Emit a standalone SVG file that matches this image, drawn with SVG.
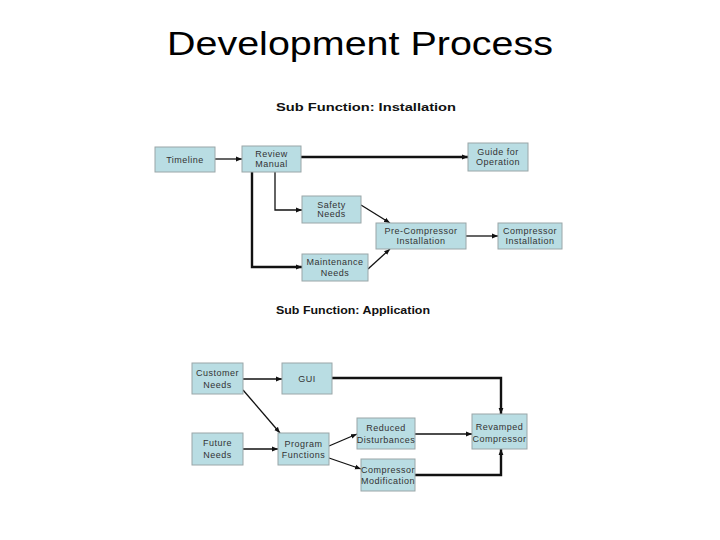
<svg xmlns="http://www.w3.org/2000/svg" width="720" height="540" viewBox="0 0 720 540">
<style>
.bg{fill:#fff}
.node rect{fill:#b9dde3;stroke:#9aa6a8;stroke-width:1}
.node text{font-family:"Liberation Sans",Arial,sans-serif;font-size:9px;fill:#333;text-anchor:middle;letter-spacing:0.5px}
.title{font-family:"Liberation Sans",Arial,sans-serif;font-size:33px;fill:#000}
.sub{font-family:"Liberation Sans",Arial,sans-serif;font-size:11px;font-weight:bold;fill:#111}
.c{fill:none;stroke:#111;stroke-width:1.3;marker-end:url(#a)}
.t{stroke-width:2.4}
</style>
<defs>
<marker id="a" viewBox="0 0 10 10" refX="10" refY="5" markerWidth="6" markerHeight="6" markerUnits="userSpaceOnUse" orient="auto">
<path d="M0,1 L10,5 L0,9 z" fill="#111"/>
</marker>
</defs>
<rect class="bg" width="720" height="540"/>
<text class="title" x="167" y="55" textLength="386" lengthAdjust="spacingAndGlyphs">Development Process</text>
<text class="sub" x="276" y="111" textLength="180" lengthAdjust="spacingAndGlyphs">Sub Function: Installation</text>
<text class="sub" x="276" y="314" textLength="154" lengthAdjust="spacingAndGlyphs">Sub Function: Application</text>

<g id="connectors">
<line class="c" x1="215" y1="159" x2="242" y2="159"/>
<line class="c t" x1="301" y1="157" x2="468" y2="157"/>
<polyline class="c" points="275,172 275,210 302,210"/>
<polyline class="c t" points="252,172 252,267 302,267"/>
<line class="c" x1="361" y1="205" x2="390" y2="223"/>
<line class="c" x1="368" y1="269" x2="390" y2="249"/>
<line class="c" x1="466" y1="236" x2="498" y2="236"/>

<line class="c" x1="243" y1="379" x2="282" y2="379"/>
<polyline class="c t" points="332,378 501,378 501,414"/>
<line class="c" x1="243" y1="390" x2="280" y2="433"/>
<line class="c" x1="243" y1="449" x2="278" y2="449"/>
<line class="c" x1="329" y1="446" x2="357" y2="434"/>
<line class="c" x1="329" y1="458" x2="361" y2="469"/>
<line class="c" x1="415" y1="434" x2="472" y2="434"/>
<polyline class="c t" points="415,475 501,475 501,449"/>
</g>

<g id="timeline" class="node"><rect x="155" y="147" width="60" height="25"/><text x="185" y="162.5">Timeline</text></g>
<g id="review-manual" class="node"><rect x="242" y="146" width="59" height="26"/><text x="271.5" y="157">Review</text><text x="271.5" y="167">Manual</text></g>
<g id="guide-for-operation" class="node"><rect x="468" y="143" width="60" height="28"/><text x="498" y="155">Guide for</text><text x="498" y="165">Operation</text></g>
<g id="safety-needs" class="node"><rect x="302" y="196" width="59" height="27"/><text x="331.5" y="207.5">Safety</text><text x="331.5" y="217">Needs</text></g>
<g id="pre-compressor-installation" class="node"><rect x="376" y="223" width="90" height="26"/><text x="421" y="234">Pre-Compressor</text><text x="421" y="244">Installation</text></g>
<g id="compressor-installation" class="node"><rect x="498" y="223" width="64" height="26"/><text x="530" y="234">Compressor</text><text x="530" y="244">Installation</text></g>
<g id="maintenance-needs" class="node"><rect x="302" y="254" width="66" height="27"/><text x="335" y="265">Maintenance</text><text x="335" y="275.5">Needs</text></g>

<g id="customer-needs" class="node"><rect x="192" y="363" width="51" height="31"/><text x="217.5" y="376">Customer</text><text x="217.5" y="387.5">Needs</text></g>
<g id="gui" class="node"><rect x="282" y="363" width="50" height="31"/><text x="307" y="382">GUI</text></g>
<g id="future-needs" class="node"><rect x="192" y="433" width="51" height="32"/><text x="217.5" y="446">Future</text><text x="217.5" y="458">Needs</text></g>
<g id="program-functions" class="node"><rect x="278" y="433" width="51" height="32"/><text x="303.5" y="446.5">Program</text><text x="303.5" y="458">Functions</text></g>
<g id="reduced-disturbances" class="node"><rect x="357" y="418" width="58" height="31"/><text x="386" y="431">Reduced</text><text x="386" y="442.5">Disturbances</text></g>
<g id="compressor-modification" class="node"><rect x="361" y="459" width="54" height="32"/><text x="388" y="472.5">Compressor</text><text x="388" y="484">Modification</text></g>
<g id="revamped-compressor" class="node"><rect x="472" y="414" width="55" height="35"/><text x="499.5" y="430">Revamped</text><text x="499.5" y="441.5">Compressor</text></g>
</svg>
